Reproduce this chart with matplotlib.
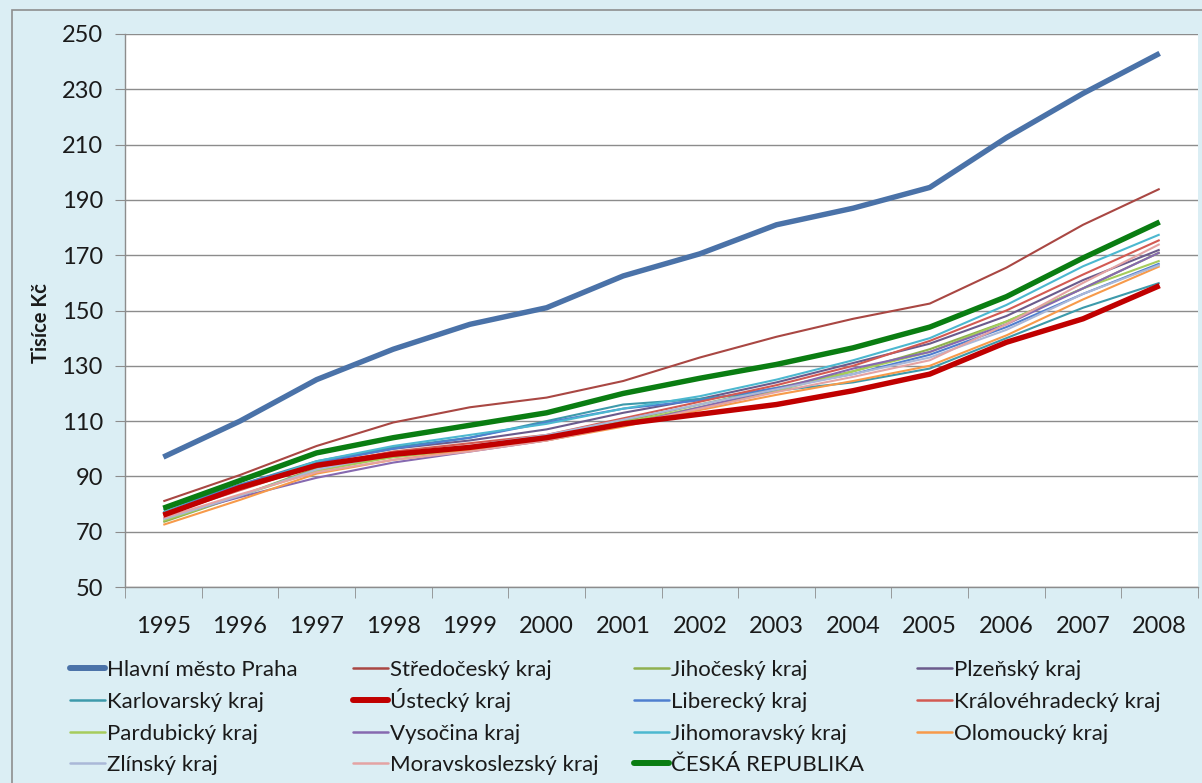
import numpy as np
import matplotlib
matplotlib.use("Agg")
import matplotlib.pyplot as plt
from matplotlib.patches import Rectangle
from matplotlib.lines import Line2D

BG = "#dbeef4"
GRID = "#8c8c8c"
TXT = "#1a1a1a"
W, H = 1202, 783

years = [str(y) for y in range(1995, 2009)]

praha = [97, 110, 125, 136, 145, 151, 162.5, 170.5, 181, 187, 194.5, 212.5, 228.5, 243]
stredocesky = [81, 90.5, 101, 109.5, 115, 118.5, 124.5, 133, 140.5, 147, 152.5, 165.5, 181, 194]
jihocesky = [73.5, 83, 93, 97, 100, 104, 110, 116, 122, 128, 136, 146, 158, 171]
plzensky = [76.5, 85.5, 95, 100, 103, 107, 113, 118, 124, 131, 138, 148, 161, 172]
karlovarsky = [78, 87, 95.5, 100.5, 104, 110, 116, 118, 121, 124, 129, 140, 151, 160]
ustecky = [76, 86, 94, 98, 100.5, 104, 109, 112.5, 116, 121, 127, 138.5, 147, 159]
liberecky = [77, 87, 95, 100, 104, 109.5, 114.5, 117.5, 122, 127, 134, 144, 156, 167]
kralovehradecky = [76, 85, 94, 99, 102, 105, 111, 117, 123, 130, 139, 150, 163, 175.5]
pardubicky = [74, 83, 92, 97, 100, 104, 109.5, 115, 121, 128, 135, 146, 158, 168]
vysocina = [75, 82.5, 89.5, 95, 99, 103, 108.5, 115, 121.5, 129, 135, 145, 158, 171]
jihomoravsky = [77, 86, 95.5, 101, 105, 109, 114.5, 119, 125, 132, 140, 152, 166, 177.5]
olomoucky = [72.5, 81.5, 91, 96, 99.5, 103, 108, 114, 119.5, 124.5, 130, 141, 154, 166]
zlinsky = [74.5, 83, 92.5, 98, 101, 105, 110.5, 116, 121.5, 127, 133, 143, 156, 166.5]
moravskoslezsky = [75, 83.5, 91.5, 96, 99, 103, 108.5, 114.5, 120.5, 126, 132, 145, 160, 174]
cr = [78.5, 88.5, 98.5, 104, 108.5, 113, 120, 125.5, 130.5, 136.5, 144, 155, 169, 182]

# (popisek, data, barva, tloušťka)
serie = [
    ("Hlavní město Praha", praha, "#4a72a8", 3.9),
    ("Středočeský kraj", stredocesky, "#a94743", 1.5),
    ("Jihočeský kraj", jihocesky, "#8fb04f", 1.5),
    ("Plzeňský kraj", plzensky, "#6b5b8c", 1.5),
    ("Karlovarský kraj", karlovarsky, "#3d9aab", 1.5),
    ("Ústecký kraj", ustecky, "#c00000", 3.9),
    ("Liberecký kraj", liberecky, "#4f7fcf", 1.5),
    ("Královéhradecký kraj", kralovehradecky, "#d35a52", 1.5),
    ("Pardubický kraj", pardubicky, "#a6cc5c", 1.5),
    ("Vysočina kraj", vysocina, "#8669b0", 1.5),
    ("Jihomoravský kraj", jihomoravsky, "#4cb8d0", 1.5),
    ("Olomoucký kraj", olomoucky, "#f79a4a", 1.5),
    ("Zlínský kraj", zlinsky, "#aab8d8", 1.5),
    ("Moravskoslezský kraj", moravskoslezsky, "#e4a3a3", 1.5),
    ("ČESKÁ REPUBLIKA", cr, "#0a7d12", 3.9),
]

fig = plt.figure(figsize=(W / 100, H / 100), dpi=100, facecolor=BG)
fig.patches.append(Rectangle((12 / W, -0.02), 1.0, 1.02 - 10 / H, transform=fig.transFigure,
                             facecolor="none", edgecolor="#8e8e8e", lw=1.2))

ax = fig.add_axes([125 / W, 1 - 587 / H, (1198 - 125) / W, (587 - 34) / H])
ax.set_facecolor("white")
x = np.arange(len(years))
for nm, y, c, lw in serie:
    ax.plot(x, y, color=c, lw=lw, label=nm, zorder=3 if lw > 2 else 2,
            solid_capstyle="butt")

ax.set_xlim(-0.5, len(years) - 0.5)
ax.set_ylim(50, 250)
ax.set_yticks(range(50, 251, 20))
ax.set_xticks(x)
ax.set_xticklabels(years, family="Lato")
for t in ax.get_yticklabels():
    t.set_family("Lato")
ax.set_xticks(np.arange(-0.5, len(years), 1), minor=True)
ax.tick_params(axis="x", which="major", length=0, pad=21, labelsize=17, labelcolor=TXT)
ax.tick_params(axis="x", which="minor", length=8, color=GRID)
ax.tick_params(axis="y", length=7, color=GRID, labelsize=17, pad=9, labelcolor=TXT)
ax.grid(axis="y", color=GRID, lw=1.0)
ax.set_axisbelow(True)
for s in ["top", "right"]:
    ax.spines[s].set_visible(False)
for s in ["left", "bottom"]:
    ax.spines[s].set_color(GRID)
    ax.spines[s].set_linewidth(1.0)

fig.text(41 / W, 1 - 323 / H, "Tisíce Kč", rotation=90, ha="center", va="center",
         fontsize=14.5, fontweight="bold", family="Lato", color=TXT)

# legenda: 4 sloupce, řazení po řádcích
col_x = [70, 353, 634, 917]
row_y = [668, 700, 732, 763]
for i, (nm, y, c, lw) in enumerate(serie):
    x0 = col_x[i % 4]
    yy = row_y[i // 4]
    fig.add_artist(Line2D([x0 / W, (x0 + 35) / W], [1 - yy / H, 1 - yy / H],
                          transform=fig.transFigure, color=c,
                          lw=4.3 if lw > 2 else 1.8, solid_capstyle="round"))
    fig.text((x0 + 37) / W, 1 - (yy + 8) / H, nm, ha="left", va="baseline",
             fontsize=16, family="Lato", color=TXT)

fig.savefig("out.png", dpi=100, facecolor=BG)
